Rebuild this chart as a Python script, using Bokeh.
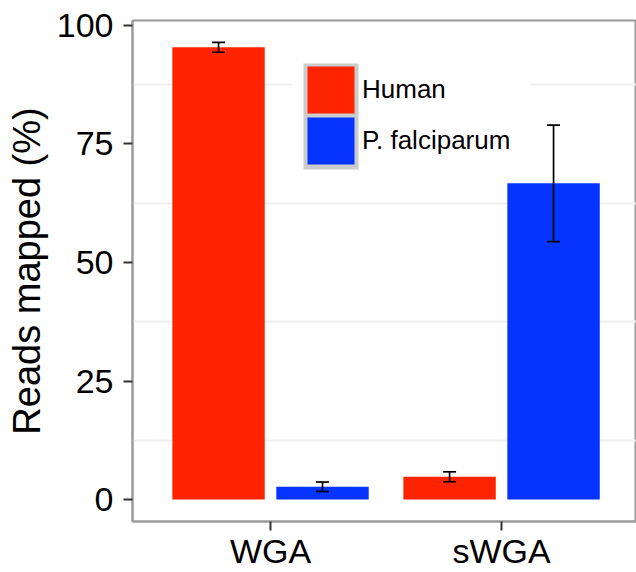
from bokeh.plotting import figure
from bokeh.models import (Range1d, FixedTicker, Legend, LegendItem, ColumnDataSource,
                          BoxAnnotation)
from bokeh.transform import dodge
from bokeh.embed import file_html
from bokeh.resources import INLINE

# ---- data ----
methods = ["WGA", "sWGA"]
species = ["Human", "P. falciparum"]
human_mean = [95.4, 4.8]
human_err = [1.05, 1.05]
pf_mean = [2.7, 66.7]
pf_err = [1.0, 12.3]
y_ticks = [0, 25, 50, 75, 100]
grid_ticks = [12.5, 37.5, 62.5, 87.5]
colors = ["#FF2400", "#0533FF"]

xpos = [1, 2]
FONT = "Liberation Sans"

p = figure(width=636, height=572,
           x_range=Range1d(0.4026, 2.584), y_range=Range1d(-4.63, 101.05),
           output_backend="svg", toolbar_location=None,
           min_border_left=132, min_border_right=0, min_border_top=20,
           min_border_bottom=50)

p.background_fill_color = "white"
p.border_fill_color = "white"
p.outline_line_color = "#9a9a9a"
p.outline_line_width = 2

p.xgrid.visible = False
p.ygrid.ticker = FixedTicker(ticks=grid_ticks)
p.ygrid.grid_line_color = "#efefef"
p.ygrid.grid_line_width = 2

bar_w = 0.4
offsets = [-0.225, 0.225]
cap = 0.028
means = [human_mean, pf_mean]
errs = [human_err, pf_err]

legend_items = []
for name, m, e, off, col in zip(species, means, errs, offsets, colors):
    src = ColumnDataSource(dict(
        x=xpos, top=m,
        lower=[a - b for a, b in zip(m, e)],
        upper=[a + b for a, b in zip(m, e)],
    ))
    p.vbar(x=dodge("x", off, range=p.x_range), top="top", bottom=0, width=bar_w,
           source=src, fill_color=col, line_color=None)
    p.segment(x0=dodge("x", off, range=p.x_range), y0="lower",
              x1=dodge("x", off, range=p.x_range), y1="upper",
              source=src, line_color="black", line_width=1.7)
    for yk in ["lower", "upper"]:
        p.segment(x0=dodge("x", off - cap, range=p.x_range), y0=yk,
                  x1=dodge("x", off + cap, range=p.x_range), y1=yk,
                  source=src, line_color="black", line_width=1.7)
    # legend key renderer (hidden in plot, drawn only as legend key)
    key = p.vbar(x=dodge("x", off, range=p.x_range), top="top", bottom=0, width=bar_w,
                 source=src, fill_color=col, line_color=col, line_width=6.2,
                 line_join="miter", visible=False)
    legend_items.append(LegendItem(label=name, renderers=[key]))

# legend background and grey key frame
p.add_layout(BoxAnnotation(left=292, right=530, top=55, bottom=176,
                           left_units="canvas", right_units="canvas",
                           top_units="canvas", bottom_units="canvas",
                           fill_color="white", fill_alpha=1, line_color=None))
p.add_layout(BoxAnnotation(left=303, right=358, top=63, bottom=169,
                           left_units="canvas", right_units="canvas",
                           top_units="canvas", bottom_units="canvas",
                           fill_color="#cccccc", fill_alpha=1, line_color=None))

legend = Legend(items=legend_items, location=(173, 355), orientation="vertical",
                glyph_width=51, glyph_height=51, spacing=0, padding=0, margin=0,
                label_standoff=6, label_text_font_size="26px", label_text_font=FONT,
                label_text_color="black", inactive_fill_alpha=0,
                border_line_color=None, background_fill_alpha=0)
p.add_layout(legend)

# axes
for ax in (p.xaxis, p.yaxis):
    ax.axis_line_color = "#9a9a9a"
    ax.axis_line_width = 2
    ax.major_tick_line_color = "#333333"
    ax.major_tick_line_width = 2
    ax.major_tick_out = 9
    ax.major_tick_in = 0
    ax.minor_tick_line_color = None
    ax.major_label_text_font = FONT
    ax.major_label_text_font_size = "34px"
    ax.major_label_text_color = "black"

p.yaxis.ticker = FixedTicker(ticks=y_ticks)
p.yaxis.major_label_standoff = 10
p.yaxis.axis_label = "Reads mapped (%)"
p.yaxis.axis_label_text_font = FONT
p.yaxis.axis_label_text_font_size = "38px"
p.yaxis.axis_label_text_font_style = "normal"
p.yaxis.axis_label_text_color = "black"
p.yaxis.axis_label_standoff = 6

p.xaxis.ticker = FixedTicker(ticks=xpos)
p.xaxis.major_label_overrides = dict(zip(xpos, methods))
p.xaxis.major_label_standoff = 1

open("out.html", "w").write(file_html(p, INLINE))
